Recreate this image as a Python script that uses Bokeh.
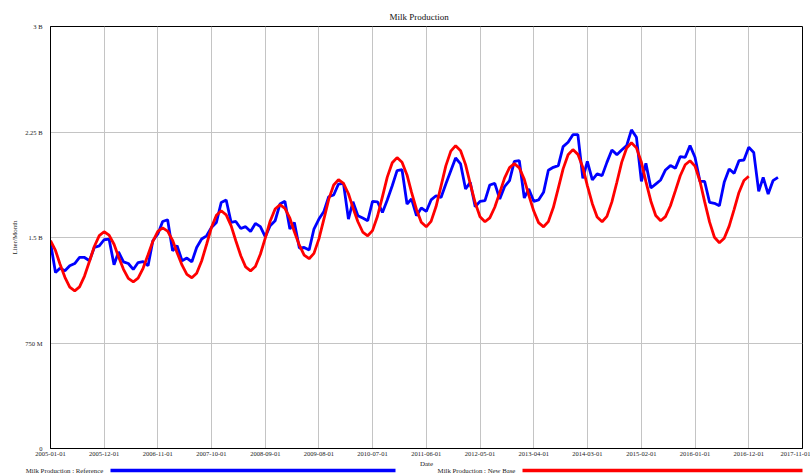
import pandas as pd
from bokeh.plotting import figure
from bokeh.models import (FixedTicker, DatetimeTickFormatter, Range1d, ColumnDataSource,
                          LinearAxis)
from bokeh.embed import file_html
from bokeh.resources import INLINE

START = "2005-01-01"
END = "2017-11-01"

# Milk Production : Reference (billion liters / month), monthly from 2005-01
reference = [
    1.465, 1.251, 1.282, 1.263, 1.299, 1.315, 1.358, 1.358, 1.335, 1.429, 1.441, 1.484,
    1.489, 1.306, 1.397, 1.327, 1.315, 1.273, 1.322, 1.329, 1.299, 1.477, 1.525, 1.614,
    1.626, 1.406, 1.441, 1.335, 1.354, 1.327, 1.429, 1.489, 1.512, 1.571, 1.607, 1.749,
    1.767, 1.607, 1.614, 1.564, 1.577, 1.543, 1.600, 1.577, 1.505, 1.584, 1.619, 1.738,
    1.757, 1.560, 1.607, 1.425, 1.429, 1.411, 1.560, 1.631, 1.685, 1.790, 1.802, 1.880,
    1.885, 1.631, 1.754, 1.655, 1.638, 1.619, 1.757, 1.754, 1.678, 1.767, 1.868, 1.975,
    1.982, 1.738, 1.774, 1.655, 1.710, 1.685, 1.767, 1.797, 1.785, 1.880, 1.975, 2.065,
    2.023, 1.845, 1.892, 1.719, 1.757, 1.762, 1.873, 1.885, 1.774, 1.861, 1.904, 2.041,
    2.046, 1.781, 1.845, 1.757, 1.767, 1.821, 1.978, 1.999, 2.011, 2.146, 2.177, 2.231,
    2.231, 1.920, 2.041, 1.909, 1.952, 1.940, 2.034, 2.122, 2.089, 2.122, 2.153, 2.265,
    2.212, 1.899, 2.027, 1.852, 1.880, 1.909, 1.980, 2.011, 1.993, 2.075, 2.070, 2.153,
    2.070, 1.899, 1.899, 1.749, 1.743, 1.726, 1.892, 1.987, 1.956, 2.046, 2.051, 2.141,
    2.105, 1.828, 1.927, 1.809, 1.904, 1.927,
]

# Milk Production : New Base (billion liters / month), monthly from 2005-01
new_base = [
    1.477, 1.408, 1.312, 1.217, 1.147, 1.121, 1.149, 1.226, 1.331, 1.436, 1.513, 1.541,
    1.517, 1.452, 1.363, 1.274, 1.209, 1.185, 1.211, 1.281, 1.377, 1.473, 1.543, 1.569,
    1.545, 1.480, 1.392, 1.303, 1.238, 1.214, 1.246, 1.333, 1.452, 1.571, 1.658, 1.690,
    1.661, 1.583, 1.477, 1.370, 1.291, 1.263, 1.294, 1.381, 1.498, 1.616, 1.702, 1.733,
    1.707, 1.637, 1.541, 1.445, 1.375, 1.349, 1.387, 1.490, 1.630, 1.771, 1.873, 1.911,
    1.884, 1.811, 1.712, 1.612, 1.539, 1.512, 1.549, 1.651, 1.790, 1.929, 2.031, 2.068,
    2.035, 1.945, 1.822, 1.699, 1.609, 1.576, 1.615, 1.720, 1.865, 2.009, 2.114, 2.153,
    2.117, 2.018, 1.883, 1.747, 1.648, 1.612, 1.640, 1.715, 1.819, 1.922, 1.997, 2.025,
    1.995, 1.913, 1.801, 1.688, 1.606, 1.576, 1.613, 1.713, 1.851, 1.988, 2.088, 2.125,
    2.091, 1.997, 1.869, 1.740, 1.646, 1.612, 1.650, 1.753, 1.893, 2.034, 2.136, 2.174,
    2.137, 2.035, 1.897, 1.758, 1.656, 1.619, 1.648, 1.726, 1.833, 1.939, 2.017, 2.046,
    2.007, 1.900, 1.755, 1.609, 1.502, 1.463, 1.495, 1.581, 1.700, 1.820, 1.905, 1.935,
]

y_ticks = [0, 0.75, 1.5, 2.25, 3.0]
y_tick_labels = ["0", "750 M", "1.5 B", "2.25 B", "3 B"]
x_tick_dates = ["2005-01-01", "2005-12-01", "2006-11-01", "2007-10-01", "2008-09-01",
                "2009-08-01", "2010-07-01", "2011-06-01", "2012-05-01", "2013-04-01",
                "2014-03-01", "2015-02-01", "2016-01-01", "2016-12-01", "2017-11-01"]
series_names = ["Milk Production : Reference", "Milk Production : New Base"]
series_colors = ["#0000ff", "#ff0000"]

FONT = "Liberation Serif"
W = 810
FL, FR = 50, 8

ref_src = ColumnDataSource(dict(
    date=pd.date_range(START, periods=len(reference), freq="MS"), v=reference))
nb_src = ColumnDataSource(dict(
    date=pd.date_range(START, periods=len(new_base), freq="MS"), v=new_base))

p = figure(width=W, height=476, x_axis_type="datetime",
           x_range=Range1d(pd.Timestamp(START), pd.Timestamp(END)),
           y_range=Range1d(0, 3), title="Milk Production",
           output_backend="svg", toolbar_location=None,
           min_border_left=FL, min_border_right=FR, min_border_top=26, min_border_bottom=28)

p.line("date", "v", source=ref_src, color=series_colors[0], line_width=2.8)
p.line("date", "v", source=nb_src, color=series_colors[1], line_width=2.8)

p.title.text_font = FONT
p.title.text_font_size = "9px"
p.title.text_font_style = "normal"
p.title.align = "left"
p.title.offset = 339
p.title.standoff = 10
p.title.text_color = "#111111"

x_ticks = [pd.Timestamp(d).value / 1e6 for d in x_tick_dates]
p.xaxis.ticker = FixedTicker(ticks=x_ticks)
fmt = "%Y-%m-%d"
p.xaxis.formatter = DatetimeTickFormatter(
    microseconds=fmt, milliseconds=fmt, seconds=fmt, minsec=fmt, minutes=fmt,
    hourmin=fmt, hours=fmt, days=fmt, months=fmt, years=fmt)
p.yaxis.ticker = FixedTicker(ticks=y_ticks)
p.yaxis.major_label_overrides = dict(zip(y_ticks, y_tick_labels))

for ax in (p.xaxis, p.yaxis):
    ax.axis_line_color = "black"
    ax.axis_line_width = 1
    ax.major_tick_in = 0
    ax.major_tick_out = 0
    ax.minor_tick_line_color = None
    ax.major_label_text_font = FONT
    ax.major_label_text_font_size = "6.5px"
    ax.major_label_text_color = "#222222"
    ax.axis_label_text_font = FONT
    ax.axis_label_text_font_size = "7px"
    ax.axis_label_text_font_style = "normal"
    ax.axis_label_text_color = "#222222"

p.xaxis.major_label_standoff = 3
p.xaxis.axis_label = "Date"
p.xaxis.axis_label_standoff = 1
p.yaxis.major_label_standoff = 8
p.yaxis.axis_label = "Liter/Month"
p.yaxis.axis_label_standoff = 3

p.grid.grid_line_color = "#c4c4c4"
p.grid.grid_line_width = 1
p.outline_line_color = "black"
p.outline_line_alpha = 1
p.background_fill_color = "white"
p.border_fill_color = "white"

# Legend row (label first, then a long coloured line), built from extra bottom axes
# on a pixel-like range spanning the frame.
p.extra_x_ranges = {"px": Range1d(FL, W - FR)}


def plain_axis(**kw):
    ax = LinearAxis(x_range_name="px", **kw)
    ax.major_tick_line_color = None
    ax.minor_tick_line_color = None
    ax.major_tick_in = 0
    ax.major_tick_out = 0
    return ax


line_bounds = [(110, 395), (522, 806)]
for color, (b0, b1) in zip(series_colors, line_bounds):
    mid = (b0 + b1) / 2
    ax = plain_axis(ticker=FixedTicker(ticks=[mid]), major_label_overrides={mid: ""},
                    bounds=(b0, b1))
    ax.axis_line_color = color
    ax.axis_line_width = 3.5
    ax.major_label_standoff = 0
    ax.major_label_text_font_size = "0px"
    p.add_layout(ax, "below")

label_centers = [64, 476]
names_axis = plain_axis(ticker=FixedTicker(ticks=label_centers),
                        major_label_overrides=dict(zip(label_centers, series_names)))
names_axis.axis_line_color = None
names_axis.major_label_standoff = -4
names_axis.major_label_text_font = FONT
names_axis.major_label_text_font_size = "6.8px"
names_axis.major_label_text_color = "#222222"
p.add_layout(names_axis, "below")

open("out.html", "w").write(file_html(p, INLINE))
